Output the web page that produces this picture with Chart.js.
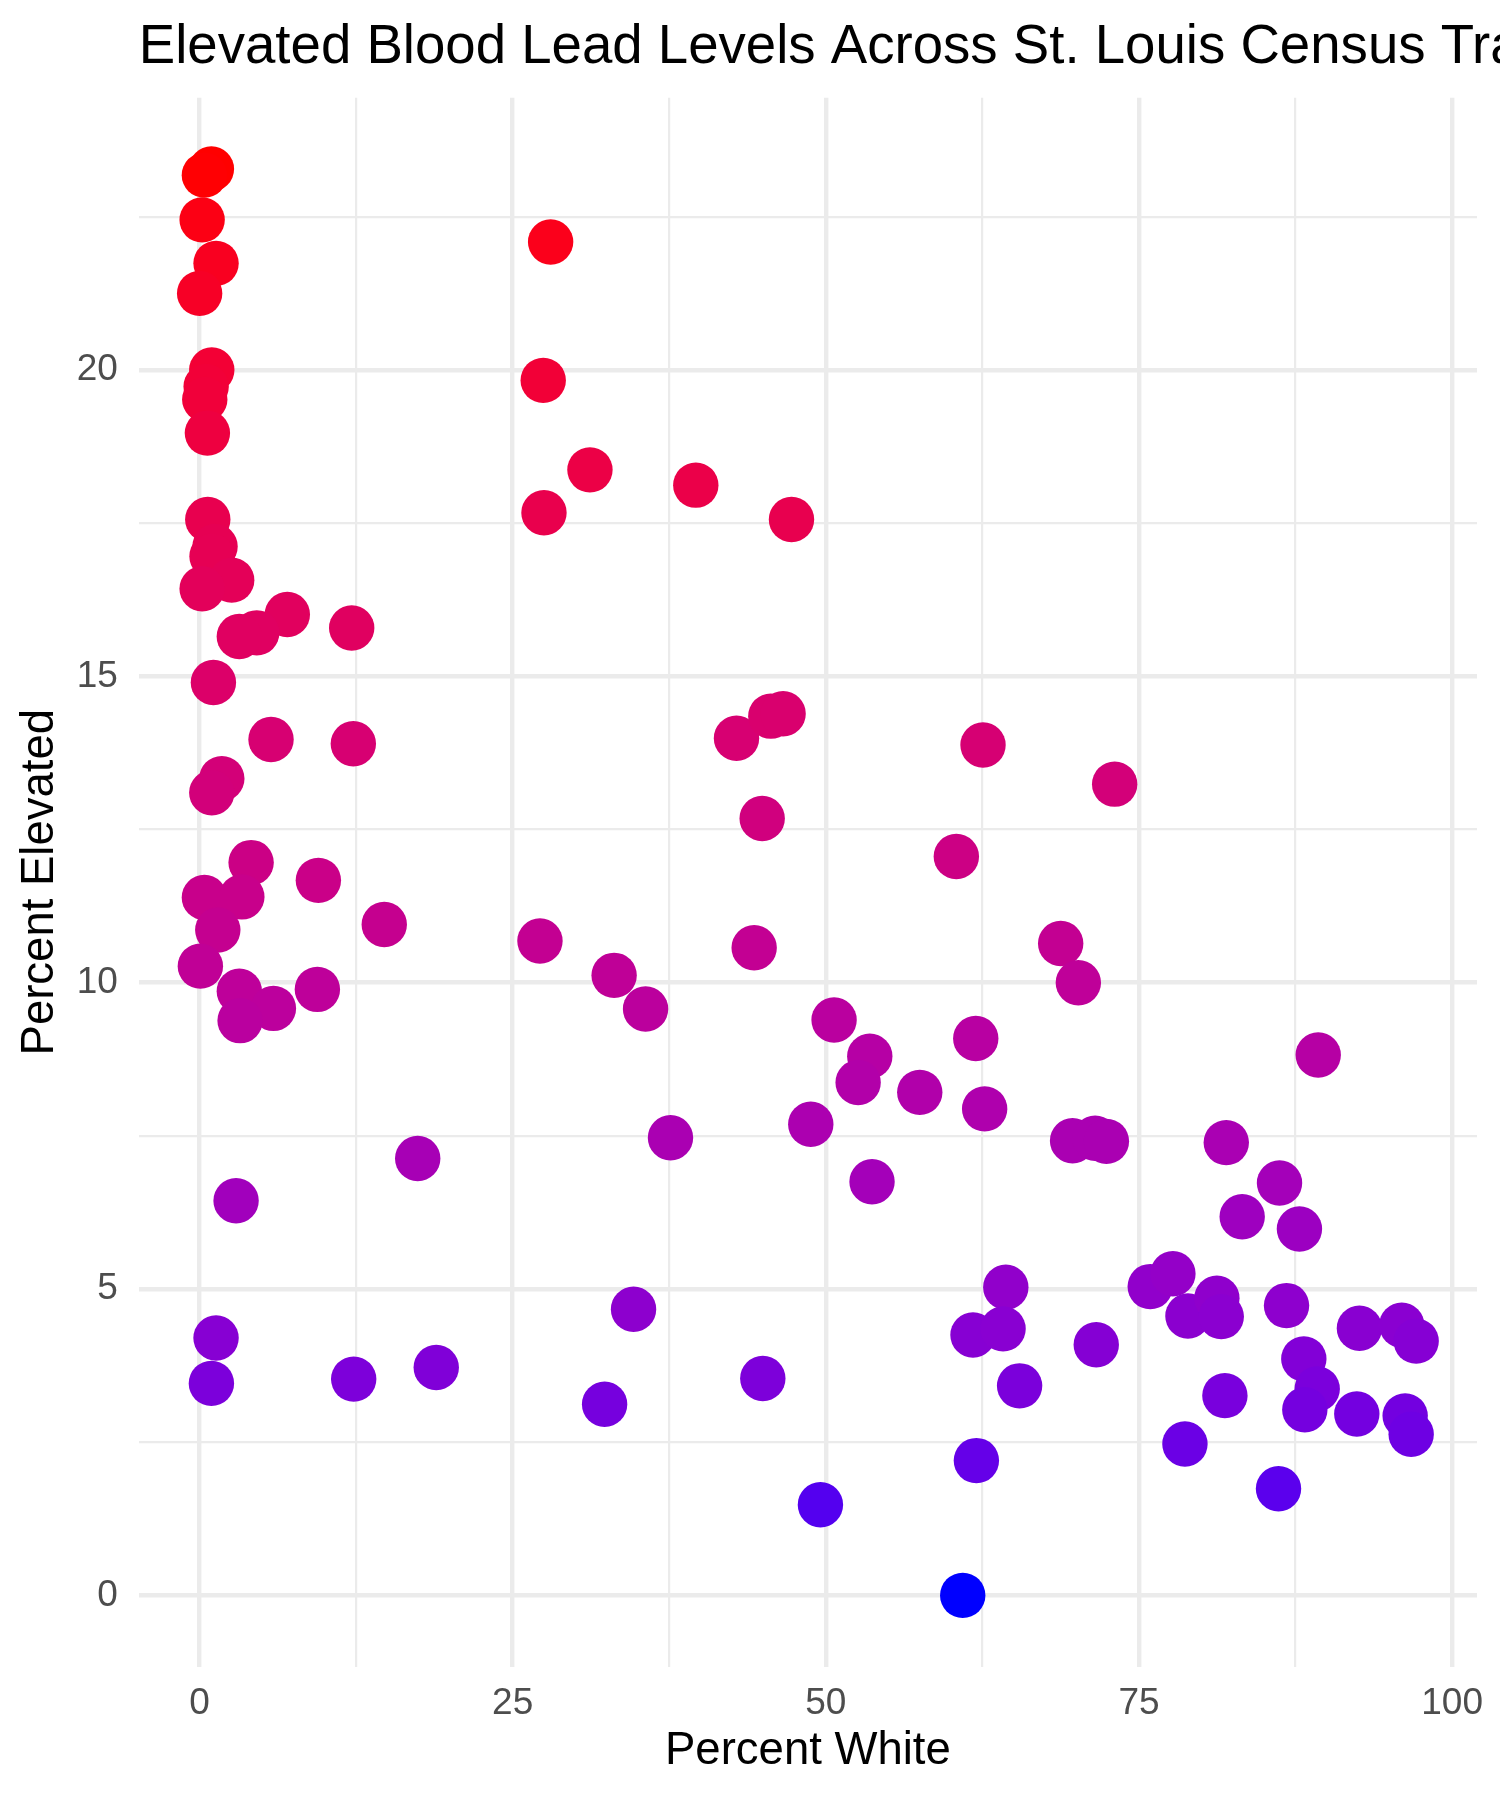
<!DOCTYPE html>
<html>
<head>
<meta charset="utf-8">
<script src="https://cdn.jsdelivr.net/npm/chart.js@4.4.1/dist/chart.umd.min.js"></script>
<style>
  html, body { margin: 0; padding: 0; background: #ffffff; }
  #wrap { width: 1500px; height: 1800px; position: relative; }
  canvas { display: block; }
</style>
</head>
<body>
<div id="wrap"><canvas id="c" width="1500" height="1800"></canvas></div>
<script>
// ---- data ----
const pctWhite = [
  0.95, 0.39, 0.21, 1.32, 0.01, 28.03, 0.98, 0.53, 0.42, 0.63,
  27.44, 31.17, 39.62, 27.50, 47.26, 0.66, 1.24, 1.00, 2.57, 0.21,
  7.01, 12.15, 4.57, 3.18, 1.11, 5.71, 12.28, 1.78, 0.98, 42.87,
  45.61, 46.59, 62.55, 73.06, 44.92, 60.42, 4.12, 9.49, 0.39, 3.38,
  14.75, 1.46, 0.07, 27.18, 44.28, 68.75, 70.16, 33.10, 35.61, 3.18,
  9.41, 5.90, 3.24, 50.66, 53.51, 52.58, 57.50, 61.97, 62.68, 89.31,
  48.80, 37.60, 17.42, 69.70, 71.50, 72.40, 81.97, 86.22, 53.69, 2.92,
  83.24, 87.81, 64.37, 75.90, 77.71, 78.91, 81.22, 81.57, 86.78, 92.60,
  95.98, 97.13, 61.75, 64.15, 71.59, 34.65, 1.32, 0.95, 12.31, 18.90,
  44.97, 32.34, 65.47, 88.16, 89.23, 88.24, 81.86, 92.39, 96.25, 96.73,
  78.67, 62.02, 49.57, 86.14, 60.93
];
const pctElevated = [
  23.28, 23.18, 22.45, 21.74, 21.25, 22.09, 20.00, 19.73, 19.52, 18.97,
  19.83, 18.37, 18.12, 17.67, 17.56, 17.56, 17.12, 16.96, 16.57, 16.43,
  16.01, 15.79, 15.71, 15.65, 14.90, 13.97, 13.90, 13.33, 13.10, 13.99,
  14.35, 14.39, 13.88, 13.24, 12.68, 12.06, 11.96, 11.67, 11.39, 11.40,
  10.95, 10.86, 10.27, 10.68, 10.57, 10.64, 10.00, 10.12, 9.57, 9.86,
  9.89, 9.58, 9.38, 9.39, 8.80, 8.37, 8.21, 9.09, 7.94, 8.82,
  7.69, 7.47, 7.13, 7.42, 7.46, 7.41, 7.39, 6.73, 6.75, 6.44,
  6.18, 5.98, 5.03, 5.04, 5.25, 4.56, 4.85, 4.55, 4.73, 4.36,
  4.41, 4.15, 4.25, 4.35, 4.09, 4.67, 4.20, 3.46, 3.53, 3.72,
  3.54, 3.12, 3.42, 3.86, 3.37, 3.03, 3.26, 2.96, 2.93, 2.63,
  2.47, 2.20, 1.48, 1.74, 0.00
];
const xTickValues = [0, 25, 50, 75, 100];
const xTickLabels = ['0', '25', '50', '75', '100'];
const xMinorValues = [12.5, 37.5, 62.5, 87.5];
const yTickValues = [0, 5, 10, 15, 20];
const yTickLabels = ['0', '5', '10', '15', '20'];
const yMinorValues = [2.5, 7.5, 12.5, 17.5, 22.5];
const titleText = 'Elevated Blood Lead Levels Across St. Louis Census Tracts';
const xTitle = 'Percent White';
const yTitle = 'Percent Elevated';
const lowColor = '#0000FF';
const highColor = '#FF0000';

// ---- Lab colour interpolation (like ggplot's scale_colour_gradient) ----
function hexToRgb(h) {
  return [parseInt(h.slice(1,3),16)/255, parseInt(h.slice(3,5),16)/255, parseInt(h.slice(5,7),16)/255];
}
function toLin(c) { return c <= 0.04045 ? c/12.92 : Math.pow((c+0.055)/1.055, 2.4); }
function fromLin(c) { return c <= 0.0031308 ? 12.92*c : 1.055*Math.pow(c, 1/2.4) - 0.055; }
const Xn = 0.95047, Yn = 1.0, Zn = 1.08883;
const EPS = 216/24389, KAP = 24389/27;
function rgbToLab(rgb) {
  const [r,g,b] = rgb.map(toLin);
  const X = (0.4124564*r + 0.3575761*g + 0.1804375*b)/Xn;
  const Y = (0.2126729*r + 0.7151522*g + 0.0721750*b)/Yn;
  const Z = (0.0193339*r + 0.1191920*g + 0.9503041*b)/Zn;
  const f = t => t > EPS ? Math.cbrt(t) : (KAP*t + 16)/116;
  const fx = f(X), fy = f(Y), fz = f(Z);
  return [116*fy - 16, 500*(fx - fy), 200*(fy - fz)];
}
function labToHex(lab) {
  const [L,a,b] = lab;
  const fy = (L+16)/116, fx = fy + a/500, fz = fy - b/200;
  const inv = f => { const f3 = f*f*f; return f3 > EPS ? f3 : (116*f - 16)/KAP; };
  const X = inv(fx)*Xn, Y = (L > KAP*EPS ? fy*fy*fy : L/KAP)*Yn, Z = inv(fz)*Zn;
  let r = 3.2404542*X - 1.5371385*Y - 0.4985314*Z;
  let g = -0.9692660*X + 1.8760108*Y + 0.0415560*Z;
  let bb = 0.0556434*X - 0.2040259*Y + 1.0572252*Z;
  const to255 = c => Math.round(Math.min(1, Math.max(0, fromLin(c)))*255);
  return 'rgb(' + to255(r) + ',' + to255(g) + ',' + to255(bb) + ')';
}
const labLow = rgbToLab(hexToRgb(lowColor));
const labHigh = rgbToLab(hexToRgb(highColor));
const cMin = Math.min(...pctElevated), cMax = Math.max(...pctElevated);
function colourFor(v) {
  const t = (v - cMin)/(cMax - cMin);
  return labToHex([0,1,2].map(i => labLow[i] + (labHigh[i]-labLow[i])*t));
}

// ---- ggplot-like 5% expansion ----
function expand(arr) {
  const lo = Math.min(...arr), hi = Math.max(...arr), d = (hi - lo)*0.05;
  return [lo - d, hi + d];
}
const [xMin, xMax] = expand(pctWhite);
const [yMin, yMax] = expand(pctElevated);

const FONT = '"Liberation Sans", Arial, Helvetica, sans-serif';
const points = pctWhite.map((x, i) => ({x: x, y: pctElevated[i]}));

const titlePlugin = {
  id: 'plotTitle',
  afterDraw(chart) {
    const ctx = chart.ctx;
    ctx.save();
    ctx.font = '54.6px ' + FONT;
    ctx.fillStyle = '#000000';
    ctx.textAlign = 'left';
    ctx.textBaseline = 'alphabetic';
    ctx.fillText(titleText, chart.chartArea.left, 62.7);
    ctx.restore();
  }
};
const bgPlugin = {
  id: 'bg',
  beforeDraw(chart) {
    const ctx = chart.ctx;
    ctx.save();
    ctx.fillStyle = '#ffffff';
    ctx.fillRect(0, 0, chart.width, chart.height);
    ctx.restore();
  }
};

const isMajorX = v => xTickValues.includes(v);
const isMajorY = v => yTickValues.includes(v);

new Chart(document.getElementById('c'), {
  type: 'scatter',
  data: {
    datasets: [{
      data: points,
      pointRadius: 22.7,
      pointHoverRadius: 22.7,
      pointBorderWidth: 0,
      borderWidth: 0,
      pointBackgroundColor: ctx => colourFor(ctx.raw ? ctx.raw.y : 0),
      pointBorderColor: 'rgba(0,0,0,0)'
    }]
  },
  options: {
    responsive: false,
    devicePixelRatio: 1,
    animation: false,
    layout: { padding: { top: 97.7, right: 23, left: 0, bottom: 0 } },
    plugins: { legend: { display: false }, tooltip: { enabled: false }, title: { display: false } },
    scales: {
      x: {
        type: 'linear',
        min: xMin, max: xMax,
        afterBuildTicks: s => { s.ticks = [...xTickValues, ...xMinorValues].sort((a,b)=>a-b).map(v => ({value: v})); },
        afterFit: s => { s.height = 133.3; },
        ticks: {
          autoSkip: false, maxRotation: 0, padding: 14.5,
          color: '#4D4D4D', font: { family: FONT, size: 37 },
          callback: v => { const i = xTickValues.indexOf(v); return i >= 0 ? xTickLabels[i] : ''; }
        },
        grid: {
          color: '#EBEBEB', drawTicks: false,
          lineWidth: c => (c.tick && isMajorX(c.tick.value)) ? 4.4 : 2.2
        },
        border: { display: false },
        title: { display: true, text: xTitle, color: '#000000', font: { family: FONT, size: 45.5 }, padding: { top: 0, bottom: 21 } }
      },
      y: {
        type: 'linear',
        min: yMin, max: yMax,
        afterBuildTicks: s => { s.ticks = [...yTickValues, ...yMinorValues].sort((a,b)=>a-b).map(v => ({value: v})); },
        afterFit: s => { s.width = 138.8; },
        ticks: {
          autoSkip: false, padding: 21,
          color: '#4D4D4D', font: { family: FONT, size: 37 },
          callback: v => { const i = yTickValues.indexOf(v); return i >= 0 ? yTickLabels[i] : ''; }
        },
        grid: {
          color: '#EBEBEB', drawTicks: false,
          lineWidth: c => (c.tick && isMajorY(c.tick.value)) ? 4.4 : 2.2
        },
        border: { display: false },
        title: { display: true, text: yTitle, color: '#000000', font: { family: FONT, size: 45.5 }, padding: { top: 13, bottom: 0 } }
      }
    }
  },
  plugins: [bgPlugin, titlePlugin]
});
</script>
</body>
</html>
